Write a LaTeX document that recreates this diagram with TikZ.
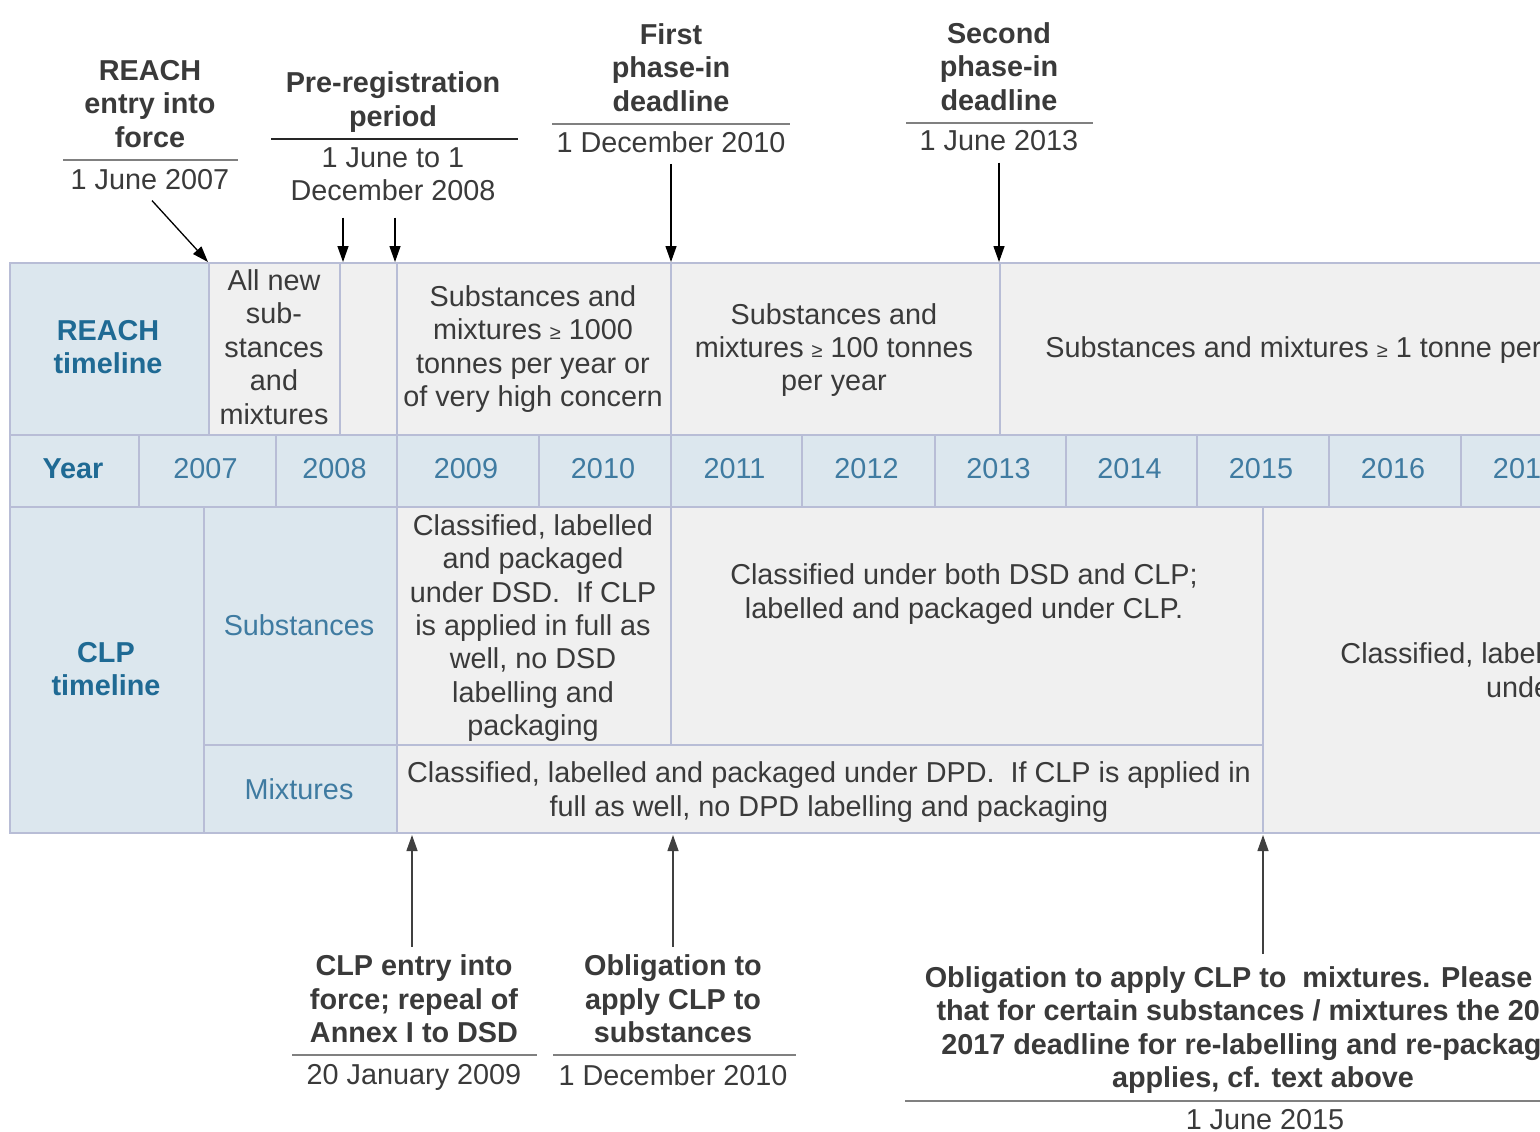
\documentclass[tikz,border=0pt]{standalone}
\usepackage{fontspec}
\setmainfont{Liberation Sans}
\usetikzlibrary{arrows.meta}

\definecolor{headfill}{HTML}{DCE7EE}
\definecolor{bodyfill}{HTML}{F0F0F0}
\definecolor{cellline}{HTML}{B8BDD6}
\definecolor{headblue}{HTML}{1F6A94}
\definecolor{yearblue}{HTML}{3F7BA1}
\definecolor{txtgrey}{HTML}{3A3A3A}
\definecolor{rulegrey}{HTML}{808080}

\newcommand{\gesym}{{\fontsize{10}{12}\selectfont ≥}}

\begin{document}
\begin{tikzpicture}[
  x=0.5pt, y=-0.5pt,
  every node/.style={inner sep=0pt, align=center, font=\fontsize{14.4}{16.7}\selectfont, text=txtgrey},
  headcell/.style={fill=headfill, draw=cellline, line width=0.7pt},
  bodycell/.style={fill=bodyfill, draw=cellline, line width=0.7pt},
  head/.style={font=\fontsize{14.4}{16.7}\selectfont\bfseries, text=headblue},
  sublabel/.style={text=yearblue},
  title/.style={font=\fontsize{14.4}{16.7}\selectfont\bfseries, text=txtgrey},
  date/.style={text=txtgrey},
  rule/.style={draw=rulegrey, line width=0.9pt},
  arrow/.style={-{Triangle[length=8pt, width=5.5pt]}, line width=0.65pt},
  ]

  \path[use as bounding box, clip] (0,0) rectangle (1540,1131);
  \fill[white] (0,0) rectangle (1540,1131);

  % REACH row
  \filldraw[headcell] (10,263) rectangle (209,435);
  \filldraw[bodycell] (209,263) rectangle (340,435);
  \filldraw[bodycell] (340,263) rectangle (397,435);
  \filldraw[bodycell] (397,263) rectangle (671,435);
  \filldraw[bodycell] (671,263) rectangle (1000,435);
  \filldraw[bodycell] (1000,263) rectangle (1700,435);

  \node[head] (reachH) at (108,347) {REACH\\timeline};
  \node (newsub) at (274,347) {All new\\sub-\\stances\\and\\mixtures};
  \node (t1000) at (533,349) {Substances and\\mixtures \gesym{} 1000\\tonnes per year or\\of very high concern};
  \node (t100) at (834,350) {Substances and\\mixtures \gesym{} 100 tonnes\\per year};
  \node[anchor=west] (t1) at (1045,350) {Substances and mixtures \gesym{} 1 tonne per year};

  % Year row
  \filldraw[headcell] (10,435) rectangle (139,507);
  \node[head] (yearH) at (73,469) {Year};
  \foreach \a/\b/\yr in {139/276/2007, 276/397/2008, 397/539/2009, 539/671/2010,
      671/802/2011, 802/935/2012, 935/1066/2013, 1066/1197/2014, 1197/1329/2015,
      1329/1461/2016, 1461/1593/2017, 1593/1725/2018} {
    \filldraw[headcell] (\a,435) rectangle (\b,507);
    \node[sublabel] (y\yr) at ({(\a+\b)/2-2},469) {\yr};
  }

  % CLP rows
  \filldraw[headcell] (10,507) rectangle (204,833);
  \filldraw[headcell] (204,507) rectangle (397,745);
  \filldraw[headcell] (204,745) rectangle (397,833);
  \filldraw[bodycell] (397,507) rectangle (671,745);
  \filldraw[bodycell] (671,507) rectangle (1263,745);
  \filldraw[bodycell] (397,745) rectangle (1263,833);
  \filldraw[bodycell] (1263,507) rectangle (1900,833);

  \node[head] (clpH) at (106,669) {CLP\\timeline};
  \node[sublabel] (subsH) at (299,625) {Substances};
  \node[sublabel] (mixH) at (299,789) {Mixtures};
  \node (dsd) at (533,628) {Classified, labelled\\and packaged\\under DSD.\ \ If CLP\\is applied in full as\\well, no DSD\\labelling and\\packaging};
  \node (both) at (964,594) {Classified under both DSD and CLP;\\labelled and packaged under CLP.};
  \node (dpd) at (829,792) {Classified, labelled and packaged under DPD.\ \ If CLP is applied in\\full as well, no DPD labelling and packaging};
  \node (clponly) at (1555,670) {Classified, labelled and packaged\\under CLP};

  % Arrow targets
  \coordinate (reachP) at (208,262);
  \coordinate (preA) at (343,262);
  \coordinate (preB) at (395,262);
  \coordinate (firstP) at (671,262);
  \coordinate (secondP) at (999,262);
  \coordinate (clpP) at (412,835);
  \coordinate (subP) at (673,835);
  \coordinate (mixP) at (1263,835);

  % Upper milestones
  \node[title] (reachT) at (150,104) {REACH\\entry into\\force};
  \draw[rule] (63,160) -- (238,160);
  \node[date] (reachD) at (150,180) {1 June 2007};

  \node[title] (preT) at (393,102) {Pre-registration\\period};
  \draw[rule, draw=black!85] (271,139) -- (518,139);
  \node[date] (preD) at (393,174.5) {1 June to 1\\December 2008};

  \node[title] (firstT) at (671,67.5) {First\\phase-in\\deadline};
  \draw[rule] (552,124) -- (790,124);
  \node[date] (firstD) at (671,142) {1 December 2010};

  \node[title] (secondT) at (999,66.5) {Second\\phase-in\\deadline};
  \draw[rule] (906,123) -- (1093,123);
  \node[date] (secondD) at (999,141) {1 June 2013};

  \draw[arrow] ([xshift=1pt, yshift=-5pt]reachD.south) -- (reachP);
  \draw[arrow] ([yshift=-8pt]preD.south -| preA) -- (preA);
  \draw[arrow] ([yshift=-8pt]preD.south -| preB) -- (preB);
  \draw[arrow] ([yshift=-5.5pt]firstD.south) -- (firstP);
  \draw[arrow] ([yshift=-5.5pt]secondD.south) -- (secondP);

  % Lower milestones
  \node[title] (clpT) at (414,999) {CLP entry into\\force; repeal of\\Annex I to DSD};
  \draw[rule] (292,1055) -- (537,1055);
  \node[date] (clpD) at (414,1077) {20 January 2009};

  \node[title] (subT) at (673,999) {Obligation to\\apply CLP to\\substances};
  \draw[rule] (553,1055) -- (796,1055);
  \node[date] (subD) at (673,1075) {1 December 2010};

  \node[title] (mixT) at (1263,1030) {Obligation to apply CLP to\ \ mixtures. Please note\\that for certain substances / mixtures the 2015 -\\2017 deadline for re-labelling and re-packaging\\applies, cf. text above};
  \draw[rule] (905,1101) -- (1700,1101);
  \node[date] (mixD) at (1265,1120) {1 June 2015};

  \draw[arrow, black!75] ([yshift=4pt]clpT.north -| clpP) -- (clpP);
  \draw[arrow, black!75] ([yshift=4pt]subT.north -| subP) -- (subP);
  \draw[arrow, black!75] ([yshift=6pt]mixT.north -| mixP) -- (mixP);

\end{tikzpicture}
\end{document}
